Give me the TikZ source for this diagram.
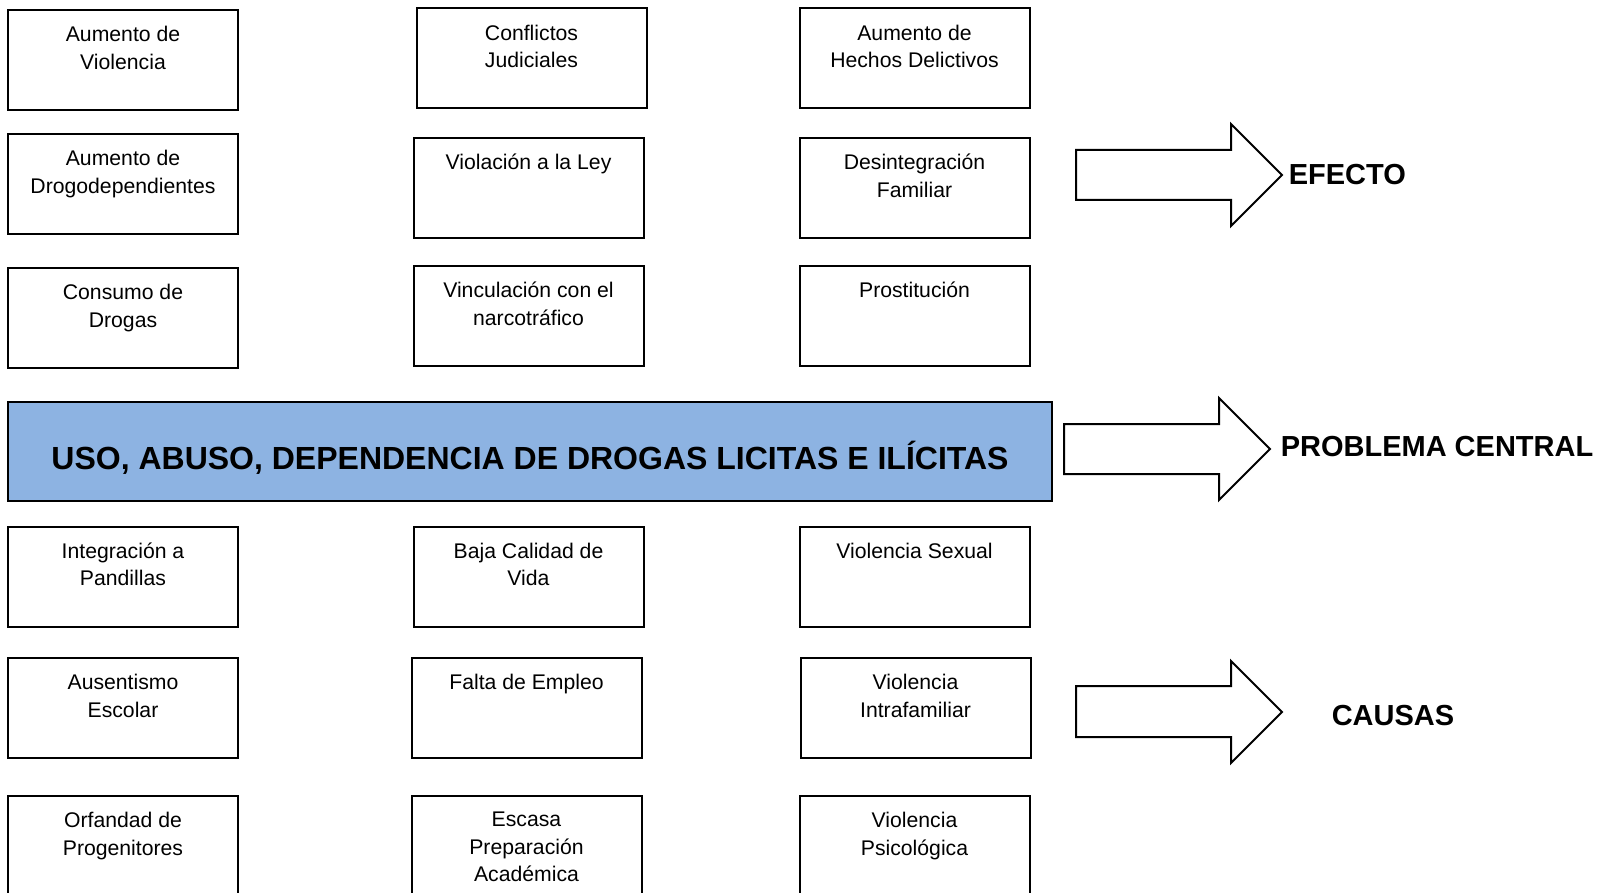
\documentclass[tikz,border=0pt]{standalone}
\usepackage{fontspec}
\setmainfont{Liberation Sans}
\usetikzlibrary{positioning}

\tikzset{every picture/.style={line width=0.75pt}}
\tikzset{
  box/.style={draw, line width=1pt, minimum width=115pt, minimum height=50pt, inner sep=0pt},
  boxtext/.style={font=\fontsize{10.6}{13.8}\selectfont, align=center, inner sep=0pt},
  centralbox/.style={draw, line width=1pt, fill={rgb,255:red,141;green,179;blue,226}, minimum width=522pt, minimum height=49.5pt, inner sep=0pt},
  centraltext/.style={font=\fontsize{16}{19}\selectfont\bfseries, inner sep=0pt},
  sidelabel/.style={font=\fontsize{14.5}{17}\selectfont\bfseries, inner sep=0pt, anchor=base west},
  blockarrow/.style={draw, line width=1pt, fill=white}
}

\begin{document}
\begin{tikzpicture}[x=0.5pt,y=0.5pt,yscale=-1,xscale=1]
\clip (0,0) rectangle (1599,893);

%Boxes: efectos
\node[box] (ef1) at (123,60) {};
\node[boxtext, below=8.2pt of ef1.north] (ef1t) {Aumento de\\Violencia};
\node[box] (ef2) at (531.5,58.5) {};
\node[boxtext, below=8.2pt of ef2.north] (ef2t) {Conflictos\\Judiciales};
\node[box] (ef3) at (914.5,58.5) {};
\node[boxtext, below=8.2pt of ef3.north] (ef3t) {Aumento de\\Hechos Delictivos};
\node[box] (ef4) at (123,184) {};
\node[boxtext, below=8.2pt of ef4.north] (ef4t) {Aumento de\\Drogodependientes};
\node[box] (ef5) at (528.5,188) {};
\node[boxtext, below=8.2pt of ef5.north] (ef5t) {Violación a la Ley};
\node[box] (ef6) at (914.5,188) {};
\node[boxtext, below=8.2pt of ef6.north] (ef6t) {Desintegración\\Familiar};
\node[box] (ef7) at (123,318) {};
\node[boxtext, below=8.2pt of ef7.north] (ef7t) {Consumo de\\Drogas};
\node[box] (ef8) at (528.5,316) {};
\node[boxtext, below=8.2pt of ef8.north] (ef8t) {Vinculación con el\\narcotráfico};
\node[box] (ef9) at (914.5,316) {};
\node[boxtext, below=8.2pt of ef9.north] (ef9t) {Prostitución};

%Shape: Rectangle (problema central)
\node[centralbox] (pc) at (530,451.5) {};
\node[centraltext, anchor=base] (pct) at ([yshift=9pt]pc.center) {USO, ABUSO, DEPENDENCIA DE DROGAS LICITAS E ILÍCITAS};

%Boxes: causas
\node[box] (ca1) at (123,576.5) {};
\node[boxtext, below=8.2pt of ca1.north] (ca1t) {Integración a\\Pandillas};
\node[box] (ca2) at (528.5,576.5) {};
\node[boxtext, below=8.2pt of ca2.north] (ca2t) {Baja Calidad de\\Vida};
\node[box] (ca3) at (914.5,576.5) {};
\node[boxtext, below=8.2pt of ca3.north] (ca3t) {Violencia Sexual};
\node[box] (ca4) at (123,708) {};
\node[boxtext, below=8.2pt of ca4.north] (ca4t) {Ausentismo\\Escolar};
\node[box] (ca5) at (526.5,708) {};
\node[boxtext, below=8.2pt of ca5.north] (ca5t) {Falta de Empleo};
\node[box] (ca6) at (915.5,708) {};
\node[boxtext, below=8.2pt of ca6.north] (ca6t) {Violencia\\Intrafamiliar};
\node[box] (ca7) at (123,846) {};
\node[boxtext, below=8.2pt of ca7.north] (ca7t) {Orfandad de\\Progenitores};
\node[box] (ca8) at (526.5,846) {};
\node[boxtext, below=8.2pt of ca8.north] (ca8t) {Escasa\\Preparación\\Académica};
\node[box] (ca9) at (914.5,846) {};
\node[boxtext, below=8.2pt of ca9.north] (ca9t) {Violencia\\Psicológica};

%Shape: Right Arrow
\draw[blockarrow] (1076,150) -- (1231,150) -- (1231,124) -- (1282,175) -- (1231,226) -- (1231,200) -- (1076,200) -- cycle;
%Shape: Right Arrow
\draw[blockarrow] (1064,424) -- (1219,424) -- (1219,398) -- (1270,449) -- (1219,500) -- (1219,474) -- (1064,474) -- cycle;
%Shape: Right Arrow
\draw[blockarrow] (1076,686) -- (1231,686) -- (1231,661) -- (1282,712) -- (1231,763) -- (1231,737) -- (1076,737) -- cycle;

% Text Node
\node[sidelabel] (efecto) at (1288,184.5) {EFECTO};
% Text Node
\node[sidelabel] (problema) at (1280,456.5) {PROBLEMA CENTRAL};
% Text Node
\node[sidelabel] (causas) at (1331,725) {CAUSAS};

\end{tikzpicture}
\end{document}
